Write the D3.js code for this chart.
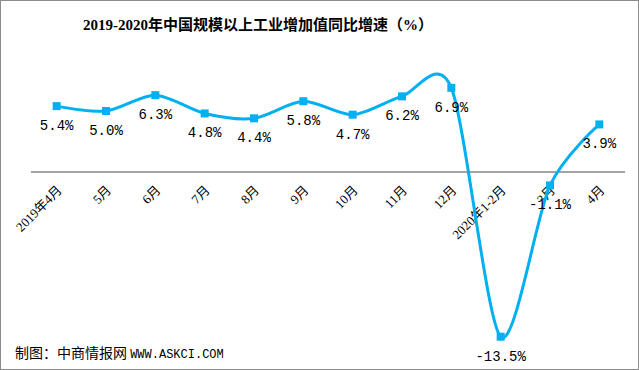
<!DOCTYPE html>
<html><head><meta charset="utf-8">
<script src="https://cdn.jsdelivr.net/npm/d3@7"></script>
<style>body{margin:0;background:#fff;}svg{display:block;}</style>
</head><body>
<script>
const categories = ["2019年4月","5月","6月","7月","8月","9月","10月","11月","12月","2020年1-2月","3月","4月"];
const values = [5.4,5.0,6.3,4.8,4.4,5.8,4.7,6.2,6.9,-13.5,-1.1,3.9];
const valueLabels = ["5.4%","5.0%","6.3%","4.8%","4.4%","5.8%","4.7%","6.2%","6.9%","-13.5%","-1.1%","3.9%"];
const title = "2019-2020年中国规模以上工业增加值同比增速（%）";
const source = "制图：中商情报网";
const sourceUrl = "WWW.ASKCI.COM";

const W = 639, H = 370;
const svg = d3.select("body").append("svg").attr("width", W).attr("height", H);
svg.append("rect").attr("x",0.5).attr("y",0.5).attr("width",W-1).attr("height",H-1)
  .attr("fill","#fff").attr("stroke","#8c8c8c");

const x = d3.scaleBand().domain(categories).range([32, 624]);
const y = d3.scaleLinear().domain([-14, 8]).range([172 + 14*12.2, 172 - 8*12.2]);
const cx = d => x(d) + x.bandwidth()/2;

svg.append("text").attr("x", 258).attr("y", 30).attr("text-anchor","middle")
  .attr("font-family","'Liberation Serif','Noto Sans CJK SC'").attr("font-weight","bold")
  .attr("font-size",15).attr("fill","#000").text(title);

// axis
const axis = d3.axisBottom(x).tickSize(0).tickSizeOuter(0);
const gAx = svg.append("g").attr("transform",`translate(0,${y(0)})`).call(axis);
gAx.select(".domain").attr("stroke","#868686").attr("stroke-width",1.3)
  .attr("d", `M31,0H625`);
gAx.selectAll(".tick text")
  .attr("font-family","'Liberation Serif','Noto Sans CJK SC'").attr("font-size",13).attr("fill","#000")
  .attr("text-anchor","end").attr("dy",0).attr("y",0)
  .attr("transform","translate(6,19) rotate(-45)");

const data = categories.map((c,i)=>({c, v: values[i], l: valueLabels[i]}));
const line = d3.line().x(d=>cx(d.c)).y(d=>y(d.v)).curve(d3.curveCardinal.tension(0.15));
svg.append("path").datum(data).attr("d", line).attr("fill","none")
  .attr("stroke","#00b0f0").attr("stroke-width",3);

svg.selectAll("rect.m").data(data).enter().append("rect").attr("class","m")
  .attr("x", d=>cx(d.c)-4).attr("y", d=>y(d.v)-4).attr("width",8).attr("height",8)
  .attr("fill","#00b0f0");

svg.selectAll("text.lbl").data(data).enter().append("text").attr("class","lbl")
  .attr("x", d=>cx(d.c)).attr("y", d=>y(d.v)+24).attr("text-anchor","middle")
  .attr("font-family","'Liberation Mono',monospace").attr("font-size",14).attr("fill","#000")
  .text(d=>d.l);

const src = svg.append("text").attr("x",15).attr("y",358).attr("fill","#000");
src.append("tspan").attr("font-family","'Noto Sans CJK SC'").attr("font-size",14).text(source + " ");
src.append("tspan").attr("font-family","'Liberation Mono',monospace").attr("font-size",12).text(sourceUrl);
</script>
</body></html>
